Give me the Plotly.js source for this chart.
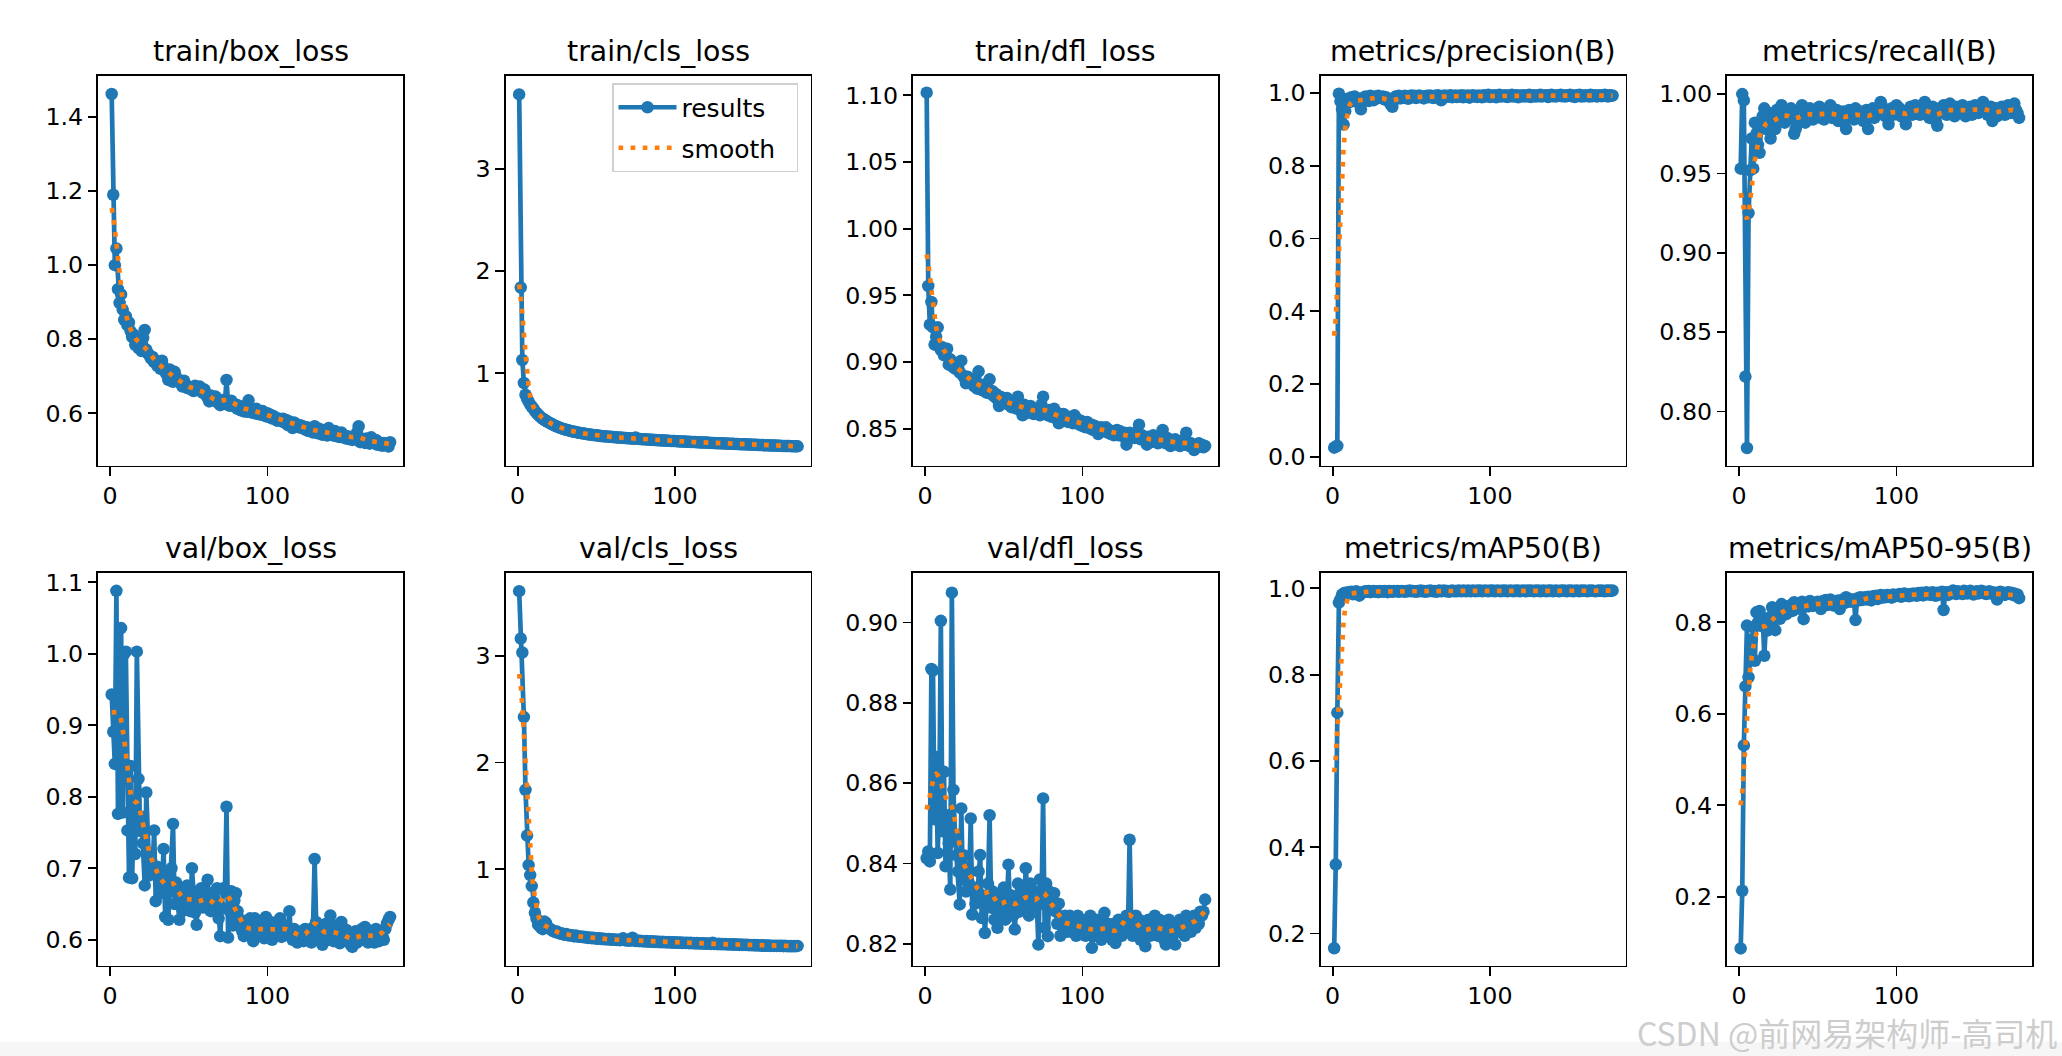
<!DOCTYPE html>
<html>
<head>
<meta charset="utf-8">
<script src="https://cdn.plot.ly/plotly-3.0.1.min.js"></script>
<style>
html,body{margin:0;padding:0;background:#ffffff;}
#chart{width:2062px;height:1056px;}
</style>
</head>
<body>
<div id="chart"></div>
<script>
// ---- data (epochs 1..178) ----
const panelTitles = ["train/box_loss","train/cls_loss","train/dfl_loss","metrics/precision(B)","metrics/recall(B)",
                     "val/box_loss","val/cls_loss","val/dfl_loss","metrics/mAP50(B)","metrics/mAP50-95(B)"];
const legendLabels = ["results","smooth"];
const xTickVals = [0, 100];

const trainBox = [
1.462,1.190,1.000,1.045,0.935,0.898,0.921,0.880,0.852,0.862,
0.838,0.845,0.822,0.806,0.812,0.785,0.798,0.776,0.790,0.768,
0.803,0.825,0.772,0.762,0.756,0.748,0.752,0.738,0.742,0.728,
0.736,0.720,0.742,0.725,0.712,0.705,0.690,0.718,0.700,0.685,
0.712,0.698,0.690,0.686,0.680,0.672,0.688,0.676,0.668,0.672,
0.665,0.670,0.660,0.674,0.668,0.662,0.672,0.660,0.655,0.664,
0.650,0.642,0.632,0.648,0.640,0.636,0.645,0.630,0.628,0.622,
0.636,0.625,0.632,0.690,0.628,0.620,0.634,0.626,0.618,0.624,
0.612,0.620,0.608,0.615,0.605,0.612,0.604,0.635,0.610,0.602,
0.608,0.600,0.612,0.598,0.604,0.596,0.606,0.598,0.592,0.600,
0.590,0.596,0.586,0.592,0.588,0.580,0.586,0.582,0.578,0.585,
0.575,0.582,0.568,0.578,0.572,0.560,0.575,0.566,0.570,0.562,
0.568,0.560,0.564,0.556,0.562,0.552,0.560,0.555,0.548,0.565,
0.552,0.546,0.558,0.550,0.542,0.555,0.548,0.540,0.560,0.548,
0.545,0.540,0.552,0.538,0.545,0.536,0.548,0.535,0.540,0.532,
0.538,0.530,0.536,0.528,0.534,0.530,0.548,0.565,0.522,0.530,
0.526,0.520,0.532,0.524,0.518,0.535,0.525,0.520,0.528,0.515,
0.522,0.518,0.512,0.520,0.515,0.518,0.510,0.522];

const trainCls = [
3.730,1.840,1.130,0.905,0.790,0.752,0.722,0.695,0.672,0.655,
0.630,0.612,0.596,0.580,0.566,0.555,0.545,0.535,0.525,0.516,
0.508,0.500,0.492,0.485,0.478,0.472,0.466,0.460,0.455,0.450,
0.446,0.442,0.438,0.434,0.430,0.427,0.424,0.421,0.418,0.416,
0.413,0.410,0.407,0.404,0.402,0.400,0.398,0.396,0.394,0.392,
0.390,0.388,0.386,0.384,0.383,0.382,0.380,0.379,0.378,0.376,
0.375,0.374,0.372,0.371,0.370,0.369,0.368,0.366,0.365,0.364,
0.363,0.362,0.361,0.360,0.372,0.358,0.357,0.356,0.355,0.354,
0.353,0.352,0.351,0.350,0.349,0.348,0.347,0.346,0.345,0.344,
0.343,0.342,0.341,0.341,0.340,0.339,0.338,0.337,0.336,0.336,
0.335,0.334,0.333,0.332,0.332,0.331,0.330,0.329,0.329,0.328,
0.327,0.326,0.326,0.325,0.324,0.323,0.323,0.322,0.321,0.321,
0.320,0.319,0.318,0.318,0.317,0.316,0.316,0.315,0.314,0.314,
0.313,0.312,0.312,0.311,0.310,0.310,0.309,0.308,0.308,0.307,
0.306,0.306,0.305,0.304,0.304,0.303,0.302,0.302,0.301,0.300,
0.300,0.299,0.298,0.298,0.297,0.297,0.296,0.295,0.295,0.294,
0.293,0.293,0.292,0.292,0.291,0.290,0.290,0.289,0.289,0.288,
0.288,0.287,0.287,0.286,0.286,0.285,0.285,0.285];

const trainDfl = [
1.102,0.957,0.928,0.945,0.926,0.913,0.919,0.926,0.912,0.909,
0.911,0.905,0.908,0.910,0.898,0.902,0.900,0.896,0.895,0.898,
0.894,0.892,0.901,0.890,0.888,0.884,0.889,0.886,0.885,0.887,
0.882,0.884,0.880,0.893,0.881,0.879,0.883,0.878,0.877,0.880,
0.887,0.876,0.878,0.874,0.876,0.872,0.867,0.874,0.870,0.871,
0.869,0.873,0.868,0.870,0.866,0.869,0.867,0.865,0.874,0.868,
0.866,0.860,0.868,0.864,0.866,0.862,0.867,0.863,0.861,0.865,
0.862,0.864,0.860,0.868,0.874,0.862,0.863,0.860,0.864,0.859,
0.861,0.865,0.858,0.862,0.854,0.860,0.857,0.861,0.856,0.858,
0.855,0.859,0.856,0.854,0.860,0.855,0.857,0.853,0.856,0.852,
0.854,0.851,0.855,0.852,0.850,0.853,0.849,0.852,0.850,0.846,
0.849,0.851,0.848,0.850,0.851,0.847,0.849,0.846,0.848,0.845,
0.847,0.849,0.845,0.848,0.846,0.844,0.847,0.838,0.845,0.847,
0.844,0.846,0.843,0.845,0.848,0.853,0.842,0.845,0.843,0.841,
0.838,0.844,0.842,0.840,0.845,0.841,0.843,0.839,0.842,0.840,
0.849,0.841,0.839,0.843,0.840,0.837,0.841,0.839,0.842,0.838,
0.840,0.837,0.841,0.839,0.838,0.847,0.840,0.837,0.839,0.836,
0.834,0.838,0.836,0.839,0.837,0.838,0.836,0.837];

const precisionB = [
0.025,0.028,0.030,0.998,0.977,0.955,0.913,0.950,0.978,0.985,
0.975,0.988,0.982,0.990,0.978,0.985,0.970,0.955,0.982,0.988,
0.990,0.984,0.978,0.992,0.986,0.980,0.990,0.985,0.992,0.988,
0.986,0.990,0.982,0.988,0.984,0.975,0.968,0.962,0.980,0.990,
0.988,0.992,0.985,0.990,0.986,0.992,0.988,0.984,0.990,0.993,
0.989,0.992,0.986,0.990,0.993,0.988,0.991,0.985,0.990,0.992,
0.988,0.993,0.990,0.986,0.992,0.990,0.994,0.988,0.980,0.991,
0.993,0.989,0.992,0.990,0.994,0.988,0.991,0.993,0.989,0.992,
0.990,0.994,0.988,0.992,0.990,0.993,0.987,0.991,0.994,0.990,
0.992,0.989,0.993,0.991,0.988,0.994,0.990,0.992,0.995,0.989,
0.993,0.990,0.994,0.988,0.992,0.995,0.990,0.993,0.991,0.994,
0.989,0.993,0.991,0.995,0.990,0.992,0.994,0.988,0.993,0.991,
0.994,0.990,0.993,0.991,0.995,0.989,0.992,0.994,0.990,0.993,
0.991,0.995,0.990,0.993,0.992,0.994,0.989,0.993,0.995,0.991,
0.993,0.990,0.994,0.992,0.995,0.991,0.993,0.990,0.994,0.992,
0.995,0.991,0.993,0.989,0.994,0.992,0.995,0.990,0.993,0.991,
0.994,0.992,0.990,0.995,0.991,0.993,0.994,0.990,0.992,0.994,
0.991,0.993,0.995,0.992,0.990,0.994,0.992,0.993];

const recallB = [
0.953,1.000,0.996,0.822,0.777,0.925,0.952,0.972,0.953,0.982,
0.975,0.968,0.963,0.980,0.986,0.991,0.978,0.984,0.988,0.972,
0.980,0.986,0.978,0.990,0.984,0.988,0.993,0.985,0.982,0.990,
0.986,0.988,0.991,0.984,0.975,0.978,0.988,0.985,0.990,0.993,
0.986,0.982,0.989,0.985,0.991,0.987,0.984,0.990,0.986,0.988,
0.992,0.985,0.988,0.984,0.990,0.986,0.989,0.993,0.985,0.988,
0.986,0.990,0.983,0.987,0.984,0.989,0.985,0.978,0.987,0.990,
0.986,0.989,0.984,0.991,0.987,0.985,0.989,0.986,0.983,0.988,
0.990,0.978,0.986,0.988,0.991,0.985,0.989,0.987,0.990,0.995,
0.992,0.988,0.986,0.990,0.981,0.989,0.991,0.987,0.990,0.993,
0.988,0.991,0.986,0.989,0.985,0.981,0.988,0.990,0.992,0.987,
0.990,0.993,0.988,0.991,0.987,0.989,0.992,0.995,0.990,0.988,
0.985,0.989,0.992,0.986,0.983,0.980,0.988,0.991,0.989,0.993,
0.990,0.987,0.991,0.994,0.988,0.990,0.986,0.992,0.989,0.991,
0.988,0.993,0.990,0.986,0.991,0.989,0.992,0.987,0.990,0.993,
0.991,0.988,0.990,0.993,0.995,0.989,0.991,0.987,0.990,0.992,
0.983,0.988,0.991,0.986,0.990,0.988,0.992,0.989,0.987,0.991,
0.993,0.990,0.988,0.992,0.994,0.990,0.988,0.985];

const valBox = [
0.943,0.891,0.846,1.088,0.776,0.935,1.036,0.778,1.000,1.003,
0.753,0.687,0.843,0.686,0.770,0.720,1.003,0.825,0.752,0.772,
0.735,0.676,0.806,0.722,0.690,0.712,0.700,0.753,0.654,0.702,
0.688,0.665,0.680,0.727,0.632,0.690,0.628,0.668,0.700,0.762,
0.650,0.680,0.672,0.628,0.660,0.640,0.668,0.645,0.676,0.652,
0.640,0.700,0.655,0.638,0.621,0.668,0.650,0.672,0.645,0.662,
0.648,0.684,0.655,0.640,0.665,0.650,0.640,0.672,0.630,0.605,
0.645,0.672,0.668,0.786,0.603,0.640,0.668,0.620,0.655,0.665,
0.640,0.620,0.628,0.612,0.605,0.622,0.615,0.608,0.630,0.612,
0.598,0.630,0.615,0.605,0.625,0.610,0.618,0.602,0.632,0.612,
0.608,0.625,0.600,0.618,0.608,0.622,0.612,0.630,0.604,0.615,
0.620,0.607,0.612,0.640,0.605,0.600,0.615,0.608,0.596,0.610,
0.603,0.612,0.598,0.615,0.605,0.610,0.600,0.596,0.617,0.713,
0.625,0.605,0.612,0.598,0.593,0.615,0.622,0.607,0.600,0.634,
0.610,0.598,0.620,0.605,0.612,0.595,0.625,0.608,0.600,0.614,
0.598,0.605,0.593,0.590,0.602,0.612,0.596,0.608,0.603,0.615,
0.600,0.618,0.605,0.596,0.612,0.600,0.608,0.596,0.615,0.603,
0.598,0.612,0.605,0.600,0.615,0.623,0.628,0.632];

const valCls = [
3.604,3.160,3.030,2.425,1.744,1.316,1.040,0.946,0.843,0.690,
0.594,0.540,0.482,0.470,0.452,0.440,0.512,0.498,0.462,0.448,
0.440,0.428,0.420,0.412,0.418,0.405,0.398,0.402,0.392,0.388,
0.395,0.384,0.380,0.386,0.378,0.372,0.380,0.374,0.368,0.372,
0.366,0.370,0.362,0.365,0.358,0.362,0.356,0.360,0.352,0.356,
0.350,0.354,0.348,0.352,0.346,0.349,0.344,0.348,0.342,0.346,
0.340,0.344,0.338,0.342,0.336,0.340,0.356,0.338,0.334,0.338,
0.332,0.336,0.360,0.334,0.330,0.334,0.328,0.332,0.326,0.330,
0.325,0.329,0.323,0.327,0.322,0.326,0.320,0.324,0.319,0.323,
0.318,0.322,0.317,0.320,0.316,0.319,0.315,0.318,0.314,0.317,
0.313,0.316,0.312,0.315,0.311,0.314,0.310,0.313,0.309,0.312,
0.308,0.311,0.307,0.310,0.306,0.309,0.305,0.308,0.304,0.307,
0.303,0.306,0.302,0.312,0.301,0.304,0.300,0.303,0.299,0.302,
0.298,0.301,0.297,0.300,0.296,0.299,0.295,0.298,0.294,0.297,
0.293,0.296,0.292,0.295,0.291,0.294,0.290,0.293,0.289,0.292,
0.288,0.291,0.287,0.290,0.286,0.289,0.285,0.288,0.284,0.287,
0.283,0.286,0.283,0.285,0.282,0.285,0.282,0.284,0.281,0.284,
0.281,0.283,0.280,0.282,0.280,0.282,0.281,0.283];

const valDfl = [
0.8413,0.8430,0.8405,0.8884,0.8880,0.8510,0.8665,0.8426,0.8550,0.9004,
0.8480,0.8628,0.8393,0.8520,0.8450,0.8335,0.9074,0.8583,0.8470,0.8420,
0.8380,0.8298,0.8537,0.8360,0.8420,0.8330,0.8390,0.8350,0.8512,0.8273,
0.8340,0.8300,0.8310,0.8380,0.8421,0.8264,0.8320,0.8227,0.8300,0.8350,
0.8520,0.8290,0.8330,0.8260,0.8310,0.8240,0.8300,0.8320,0.8280,0.8340,
0.8260,0.8300,0.8397,0.8280,0.8320,0.8270,0.8236,0.8300,0.8350,0.8280,
0.8330,0.8290,0.8310,0.8388,0.8300,0.8270,0.8350,0.8310,0.8290,0.8330,
0.8300,0.8198,0.8360,0.8300,0.8562,0.8240,0.8350,0.8219,0.8330,0.8310,
0.8290,0.8326,0.8280,0.8250,0.8300,0.8220,0.8260,0.8240,0.8270,0.8230,
0.8250,0.8270,0.8230,0.8260,0.8240,0.8220,0.8270,0.8250,0.8230,0.8260,
0.8240,0.8220,0.8250,0.8230,0.8270,0.8190,0.8240,0.8220,0.8260,0.8230,
0.8250,0.8210,0.8240,0.8277,0.8230,0.8250,0.8220,0.8240,0.8210,0.8250,
0.8202,0.8230,0.8260,0.8240,0.8220,0.8250,0.8230,0.8270,0.8240,0.8459,
0.8250,0.8220,0.8240,0.8270,0.8230,0.8260,0.8210,0.8240,0.8250,0.8194,
0.8230,0.8260,0.8220,0.8250,0.8240,0.8270,0.8230,0.8220,0.8260,0.8240,
0.8250,0.8210,0.8198,0.8230,0.8260,0.8240,0.8220,0.8250,0.8198,0.8230,
0.8240,0.8260,0.8230,0.8250,0.8220,0.8270,0.8240,0.8260,0.8230,0.8250,
0.8270,0.8240,0.8260,0.8250,0.8280,0.8270,0.8280,0.8310];

const mAP50 = [
0.166,0.360,0.712,0.967,0.975,0.985,0.988,0.990,0.987,0.991,
0.990,0.992,0.986,0.991,0.993,0.990,0.983,0.988,0.991,0.992,
0.993,0.992,0.994,0.991,0.993,0.994,0.992,0.993,0.991,0.994,
0.993,0.992,0.994,0.993,0.991,0.994,0.993,0.992,0.994,0.993,
0.994,0.992,0.993,0.994,0.993,0.992,0.994,0.993,0.995,0.993,
0.994,0.993,0.992,0.994,0.993,0.995,0.993,0.994,0.992,0.994,
0.993,0.995,0.994,0.993,0.994,0.992,0.994,0.995,0.993,0.994,
0.995,0.993,0.994,0.992,0.994,0.995,0.993,0.994,0.993,0.995,
0.994,0.993,0.995,0.994,0.993,0.995,0.994,0.993,0.995,0.994,
0.993,0.995,0.994,0.995,0.993,0.994,0.995,0.994,0.993,0.995,
0.994,0.995,0.993,0.994,0.995,0.994,0.993,0.995,0.994,0.995,
0.993,0.994,0.995,0.994,0.993,0.995,0.994,0.995,0.993,0.994,
0.995,0.994,0.993,0.995,0.994,0.995,0.994,0.993,0.995,0.994,
0.995,0.993,0.994,0.995,0.994,0.993,0.995,0.994,0.995,0.993,
0.994,0.995,0.994,0.993,0.995,0.994,0.995,0.994,0.993,0.995,
0.994,0.995,0.993,0.994,0.995,0.994,0.993,0.995,0.994,0.995,
0.994,0.993,0.995,0.994,0.995,0.994,0.993,0.994,0.995,0.994,
0.995,0.994,0.993,0.995,0.994,0.995,0.994,0.995];

const mAP5095 = [
0.087,0.213,0.531,0.660,0.793,0.680,0.716,0.762,0.790,0.716,
0.822,0.800,0.825,0.792,0.810,0.727,0.790,0.782,0.805,0.812,
0.833,0.820,0.783,0.815,0.826,0.808,0.840,0.822,0.830,0.818,
0.835,0.828,0.838,0.825,0.844,0.832,0.840,0.830,0.836,0.845,
0.807,0.838,0.842,0.835,0.847,0.840,0.836,0.843,0.838,0.845,
0.840,0.829,0.846,0.841,0.849,0.838,0.844,0.850,0.842,0.837,
0.846,0.840,0.848,0.829,0.844,0.850,0.842,0.855,0.846,0.851,
0.845,0.850,0.847,0.805,0.852,0.848,0.855,0.849,0.853,0.855,
0.850,0.856,0.852,0.848,0.857,0.853,0.858,0.851,0.856,0.860,
0.854,0.858,0.855,0.860,0.856,0.859,0.854,0.861,0.857,0.860,
0.858,0.862,0.856,0.860,0.863,0.858,0.861,0.857,0.862,0.859,
0.863,0.860,0.858,0.864,0.861,0.865,0.859,0.862,0.866,0.861,
0.864,0.860,0.866,0.862,0.858,0.865,0.861,0.863,0.867,0.827,
0.862,0.866,0.860,0.864,0.867,0.870,0.865,0.862,0.868,0.864,
0.866,0.862,0.869,0.865,0.863,0.867,0.869,0.864,0.861,0.866,
0.868,0.863,0.866,0.869,0.864,0.867,0.862,0.865,0.868,0.863,
0.866,0.862,0.865,0.850,0.864,0.867,0.862,0.865,0.860,0.864,
0.866,0.862,0.865,0.860,0.863,0.858,0.861,0.853];

const seriesList = [trainBox, trainCls, trainDfl, precisionB, recallB,
                    valBox, valCls, valDfl, mAP50, mAP5095];

// ---- smoothing as in the original plot: gaussian_filter1d(sigma=3, mode='reflect') ----
function gaussianSmooth(y, sigma) {
  const r = Math.floor(4 * sigma + 0.5);
  const w = [];
  let s = 0;
  for (let k = -r; k <= r; k++) { const v = Math.exp(-0.5 * k * k / (sigma * sigma)); w.push(v); s += v; }
  const n = y.length, out = [];
  for (let i = 0; i < n; i++) {
    let acc = 0;
    for (let k = -r; k <= r; k++) {
      let j = i + k;
      while (j < 0 || j >= n) { if (j < 0) j = -j - 1; if (j >= n) j = 2 * n - j - 1; }
      acc += w[k + r] * y[j];
    }
    out.push(acc / s);
  }
  return out;
}

// ---- layout geometry (pixels in the 2062x1056 figure) ----
const W = 2062, H = 1056;
const colLeft = [98, 505.5, 913, 1320.5, 1727];
const colWidth = 305;
const rowTop = [75.5, 573], rowBottom = [465.5, 965.5];
const yRanges = [[0.459,1.512],[0.097,3.915],[0.8224,1.1149],[-0.024,1.048],[0.766,1.0117],
                 [0.564,1.113],[0.100,3.774],[0.8146,0.9123],[0.126,1.0355],[0.0496,0.908]];
const yDticks = [0.2, 1, 0.05, 0.2, 0.05, 0.1, 1, 0.02, 0.2, 0.2];
const yFormats = [".1f", "d", ".2f", ".1f", ".2f", ".1f", "d", ".2f", ".1f", ".1f"];

const BLUE = "#1f77b4", ORANGE = "#ff7f0e";
const FONT = "DejaVu Sans";
const LW = 4.7;
const PAD = "\u00a0\u00a0";

const traces = [];
const layout = {
  width: W, height: H,
  margin: {l: 0, r: 0, t: 0, b: 0, pad: 0},
  paper_bgcolor: "#ffffff", plot_bgcolor: "#ffffff",
  font: {family: FONT, size: 23.7, color: "#000000"},
  showlegend: true,
  legend: {
    x: 798 / W, y: 1 - 83 / H, xanchor: "right", yanchor: "top",
    bgcolor: "rgba(255,255,255,0.85)", bordercolor: "#d0d0d0", borderwidth: 1.5,
    font: {family: FONT, size: 25, color: "#000000"},
    itemwidth: 58, traceorder: "grouped", tracegroupgap: 5
  },
  annotations: [], shapes: []
};

for (let p = 0; p < 10; p++) {
  const row = Math.floor(p / 5), col = p % 5;
  const idx = p === 0 ? "" : String(p + 1);
  const xa = "x" + idx, ya = "y" + idx;
  const y = seriesList[p];
  const epochs = y.map((_, i) => i + 1);
  const sm = gaussianSmooth(y, 3);
  traces.push({
    x: epochs, y: y, xaxis: xa, yaxis: ya, type: "scatter", mode: "lines+markers",
    name: legendLabels[0] + PAD, showlegend: p === 1, legendgroup: "r",
    line: {color: BLUE, width: LW}, marker: {color: BLUE, size: 12.5}
  });
  traces.push({
    x: epochs, y: sm, xaxis: xa, yaxis: ya, type: "scatter", mode: "lines",
    name: legendLabels[1] + PAD, showlegend: p === 1, legendgroup: "s",
    line: {color: ORANGE, width: LW, dash: "4.7px,7.4px"}
  });
  const x0 = colLeft[col] / W, x1 = (colLeft[col] + colWidth) / W;
  const y0 = 1 - rowBottom[row] / H, y1 = 1 - rowTop[row] / H;
  const common = {
    showgrid: false, zeroline: false, showline: true, mirror: true,
    linecolor: "#000000", linewidth: 1.8,
    ticks: "outside", ticklen: 8.4, tickwidth: 1.8, tickcolor: "#000000",
    tickfont: {family: FONT, size: 23.7, color: "#000000"},
    ticklabelstandoff: 0, fixedrange: true
  };
  layout["xaxis" + idx] = Object.assign({}, common, {
    domain: [x0, x1], anchor: ya, range: [-7.7, 186.2],
    tickmode: "array", tickvals: xTickVals, ticktext: xTickVals.map(String)
  });
  layout["yaxis" + idx] = Object.assign({}, common, {
    domain: [y0, y1], anchor: xa, range: yRanges[p],
    tickmode: "linear", tick0: 0, dtick: yDticks[p], tickformat: yFormats[p]
  });
  layout.annotations.push({
    xref: "paper", yref: "paper", x: (x0 + x1) / 2, y: y1,
    xanchor: "center", yanchor: "bottom", yshift: 6, showarrow: false,
    text: panelTitles[p], font: {family: FONT, size: 28.4, color: "#000000"}
  });
}

// faint bottom band and watermark seen in the reference
layout.shapes.push({type: "rect", xref: "paper", yref: "paper", x0: 0, x1: 1, y0: 0, y1: 14 / H,
  fillcolor: "#f6f6f6", line: {width: 0}, layer: "below"});
layout.annotations.push({
  xref: "paper", yref: "paper", x: 2058 / W, y: 1 - 1032 / H, xanchor: "right", yanchor: "middle",
  showarrow: false, borderpad: 0, text: "CSDN @前网易架构师-高司机",
  font: {family: "Noto Sans CJK SC", size: 32, color: "#cdcdcd"}
});

Plotly.newPlot("chart", traces, layout, {staticPlot: true, displayModeBar: false});
</script>
</body>
</html>
